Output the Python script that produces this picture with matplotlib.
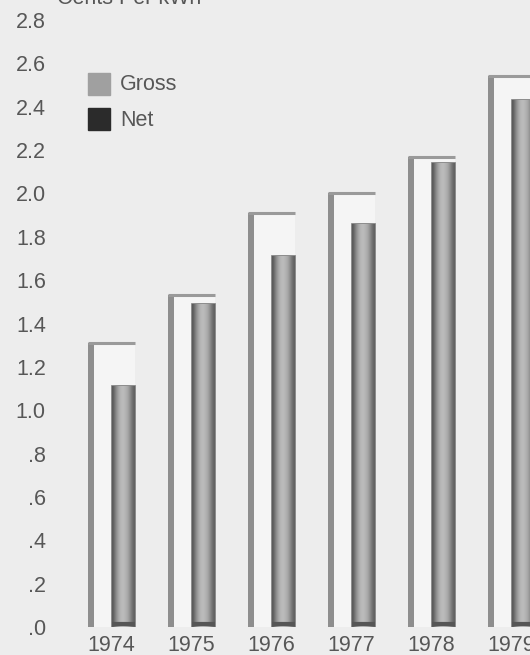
import matplotlib
matplotlib.use("Agg")
import matplotlib.pyplot as plt
import numpy as np

years = ["1974", "1975", "1976", "1977", "1978", "1979"]
gross = [1.31, 1.53, 1.91, 2.00, 2.17, 2.54]
net = [1.11, 1.49, 1.71, 1.86, 2.14, 2.43]
yticks = [0.0, 0.2, 0.4, 0.6, 0.8, 1.0, 1.2, 1.4, 1.6, 1.8, 2.0, 2.2, 2.4, 2.6, 2.8]
ylabels = [".0", ".2", ".4", ".6", ".8", "1.0", "1.2", "1.4", "1.6", "1.8",
           "2.0", "2.2", "2.4", "2.6", "2.8"]

bg = "#ededed"
txt = "#575757"
fs = 15.5
plt.rcParams["font.family"] = ["Liberation Sans", "DejaVu Sans"]

W, H = 530, 655
fig = plt.figure(figsize=(W / 100, H / 100), dpi=100, facecolor=bg)
# axes box in pixels: x 50..530, y=0 at 627, y=2.8 at 20
ax = fig.add_axes([50 / W, 28 / H, 480 / W, 607 / H], facecolor=bg)

x = np.arange(len(years))
gw = 47 / 80   # gross bar width (group spacing = 1)
nw = 23 / 80   # net bar width
sw = 6 / 80    # dark strip on left of gross bar

# gross bars: pale body, dark left strip and top rule
ax.bar(x, gross, width=gw, color="#f5f5f5", zorder=1)
ax.bar(x - gw / 2, gross, width=sw, align="edge", color="#8e8e8e", zorder=2)
ax.hlines(gross, x - gw / 2, x + gw / 2, color="#9a9a9a", lw=2.2, zorder=2)

# net bars: shaded grey, flush with the right edge of the gross bar
bars = ax.bar(x + gw / 2 - nw, net, width=nw, align="edge", color="#a8a8a8",
              edgecolor="#7a7a7a", linewidth=1.2, zorder=3)
shade = np.array([[0.35, 0.5, 0.62, 0.7, 0.74, 0.72, 0.68, 0.6, 0.48, 0.38]])
for b in bars:
    x0, y0 = b.get_x(), b.get_y()
    im = ax.imshow(shade, cmap="gray", vmin=0, vmax=1, aspect="auto",
                   extent=[x0, x0 + b.get_width(), y0, y0 + b.get_height()],
                   interpolation="bicubic", zorder=3.5)
    im.set_clip_path(b)
    ax.hlines(y0 + 0.012, x0, x0 + b.get_width(), color="#555555", lw=3, zorder=4)

ax.set_xlim((50 - 111.5) / 80, (530 - 111.5) / 80)
ax.set_ylim(0, 2.8)
ax.set_yticks(yticks)
ax.set_yticklabels(ylabels)
ax.set_xticks(x)
ax.set_xticklabels(years)
ax.tick_params(length=0, labelsize=fs, labelcolor=txt)
ax.tick_params(axis="y", pad=3)
ax.tick_params(axis="x", pad=6)
for s in ax.spines.values():
    s.set_visible(False)

# legend swatches
fig.patches.append(plt.Rectangle((88 / W, 1 - 95 / H), 22 / W, 22 / H,
                                 transform=fig.transFigure, color="#a0a0a0"))
fig.patches.append(plt.Rectangle((88 / W, 1 - 130 / H), 22 / W, 22 / H,
                                 transform=fig.transFigure, color="#2b2b2b"))
fig.text(120 / W, 1 - 85 / H, "Gross", fontsize=fs, color=txt, va="center")
fig.text(120 / W, 1 - 120 / H, "Net", fontsize=fs, color=txt, va="center")

fig.text(57 / W, 1 - 4 / H, "Cents Per kWh", fontsize=fs, color=txt, va="baseline")

fig.savefig("out.png", dpi=100, facecolor=bg)
